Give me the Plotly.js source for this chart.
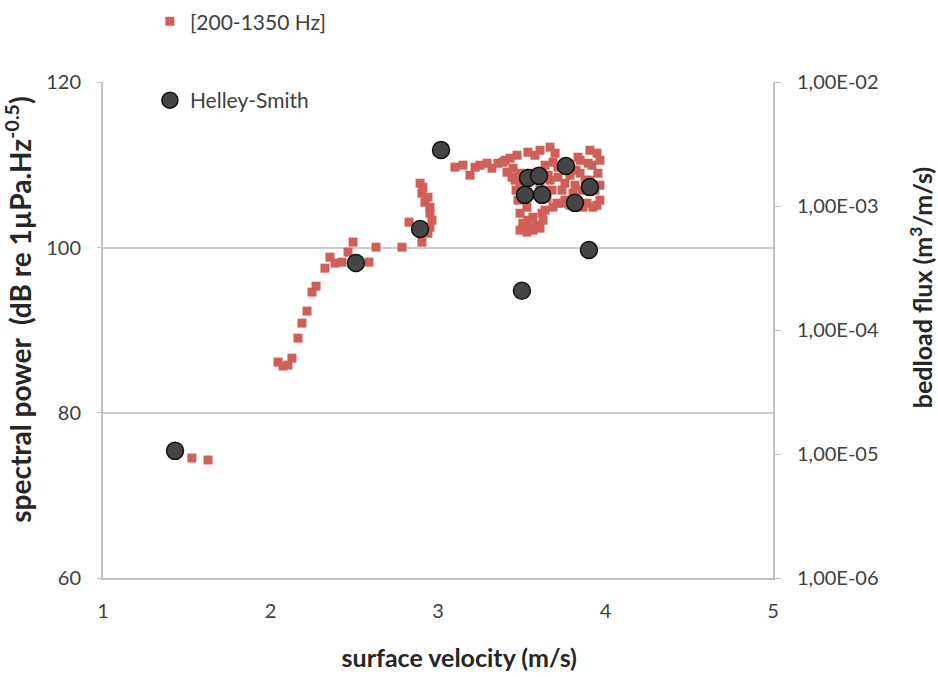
<!DOCTYPE html>
<html>
<head>
<meta charset="utf-8">
<script src="https://cdn.plot.ly/plotly-3.0.1.min.js"></script>
<style>html,body{margin:0;padding:0;background:#fff;}#chart{width:938px;height:677px;}</style>
</head>
<body>
<div id="chart"></div>
<script>
// Acoustic spectral power, band [200-1350 Hz] (left axis, dB)
const hydroVelocity = [1.531,1.627,2.045,2.075,2.104,2.128,2.164,2.188,2.218,2.248,2.272,2.325,2.355,2.385,2.427,2.463,2.493,2.588,2.630,2.785,2.827,2.904,2.893,2.910,2.904,2.940,2.922,2.952,2.952,2.964,2.952,2.940,3.101,3.149,3.191,3.221,3.251,3.293,3.322,3.358,3.400,3.412,3.442,3.472,3.490,3.388,3.430,3.537,3.448,3.460,3.478,3.490,3.507,3.549,3.591,3.621,3.651,3.681,3.669,3.699,3.687,3.716,3.716,3.758,3.806,3.836,3.848,3.878,3.896,3.949,3.955,3.967,3.925,3.890,3.549,3.567,3.531,3.669,3.710,3.758,3.860,3.507,3.567,3.627,3.687,3.746,3.949,3.519,3.490,3.639,3.609,3.919,3.937,3.907,3.788,3.818,3.639,3.537,3.466,3.579,3.609,3.579,3.490,3.609,3.531,3.639,3.657,3.740,3.788,3.866,3.907,3.967,3.967,3.848,3.824];
const hydroPower = [74.52,74.28,86.13,85.65,85.77,86.61,89.03,90.85,92.30,94.60,95.32,97.50,98.83,98.11,98.23,99.44,100.65,98.23,100.04,100.04,103.07,100.65,107.78,107.30,106.57,106.09,105.48,104.88,104.15,103.31,102.46,101.73,109.72,109.96,108.75,109.72,109.96,110.20,109.60,110.20,110.56,109.11,108.51,111.17,108.99,110.32,110.81,111.53,109.60,108.15,105.73,104.15,102.94,102.34,102.70,104.15,105.97,106.94,112.14,111.41,110.32,109.72,108.51,105.73,106.57,110.93,108.99,108.15,110.20,111.41,108.99,105.73,104.88,105.36,108.99,103.67,104.88,108.15,105.36,107.78,106.94,102.46,102.10,103.31,104.88,105.36,105.12,106.94,107.54,109.96,107.54,109.96,106.94,108.15,108.75,107.54,104.51,103.31,106.94,106.33,111.77,111.17,102.10,102.34,101.86,106.94,108.75,106.94,105.12,104.88,111.77,110.56,107.54,110.56,109.36];

// Helley-Smith bedload samples (right axis, m3/m/s)
const hsVelocity = [1.430,2.510,2.893,3.018,3.501,3.519,3.537,3.603,3.621,3.764,3.818,3.907,3.901];
const hsFlux = [1.06e-5,3.47e-4,6.53e-4,2.83e-3,2.07e-4,1.23e-3,1.68e-3,1.75e-3,1.23e-3,2.10e-3,1.06e-3,1.42e-3,4.42e-4];

const xTicks = [1,2,3,4,5];
const yTicks = [60,80,100,120];
const fluxTickVals = [1e-6,1e-5,1e-4,1e-3,1e-2];
const fluxTickText = ['1,00E-06','1,00E-05','1,00E-04','1,00E-03','1,00E-02'];

const FONT = 'Lato, "Open Sans", sans-serif';
const TITLE_FONT = {family: FONT, size: 25, color: '#262626', weight: 'bold'};
const TICK_FONT = {family: FONT, size: 20, color: '#404040'};
const NB = '\u00A0';
const ZW = '\u200B';

const traces = [
  {
    x: hydroVelocity, y: hydroPower, name: '[200-1350 Hz]', type: 'scatter', mode: 'markers',
    marker: {symbol: 'square', size: 9, color: '#cf5f58'},
    legend: 'legend', yaxis: 'y', cliponaxis: false
  },
  {
    x: hsVelocity, y: hsFlux, name: 'Helley-Smith', type: 'scatter', mode: 'markers',
    marker: {symbol: 'circle', size: 17, color: '#454545', line: {color: '#111111', width: 1.5}},
    legend: 'legend2', yaxis: 'y2', cliponaxis: false
  }
];

const layout = {
  width: 938, height: 677,
  margin: {l: 103, r: 165, t: 82, b: 99, autoexpand: false},
  paper_bgcolor: '#ffffff', plot_bgcolor: '#ffffff',
  font: {family: FONT, color: '#404040', size: 20},
  showlegend: true,
  xaxis: {
    range: [1, 5], tickvals: xTicks, showgrid: false, zeroline: false,
    showline: true, linecolor: '#c0c0c0', linewidth: 2, ticks: '',
    tickfont: TICK_FONT, ticklabelstandoff: 14,
    title: {text: ZW + NB.repeat(7) + 'surface velocity (m/s)', font: TITLE_FONT, standoff: 28}
  },
  yaxis: {
    range: [60, 120.03], tickvals: yTicks, showgrid: true, gridcolor: '#cccccc', gridwidth: 2,
    zeroline: false, showline: true, linecolor: '#c0c0c0', linewidth: 2, ticks: 'outside', ticklen: 4, tickcolor: '#c0c0c0',
    tickfont: TICK_FONT, ticklabelstandoff: 12,
    title: {text: ZW + NB.repeat(6) + 'spectral power' + NB + NB + '(dB re 1µPa.Hz<sup>-0.5</sup>)', font: Object.assign({}, TITLE_FONT, {size: 28}), standoff: 10}
  },
  yaxis2: {
    type: 'log', range: [-6, -2], overlaying: 'y', side: 'right', anchor: 'x',
    tickvals: fluxTickVals, ticktext: fluxTickText, showgrid: false, zeroline: false,
    showline: true, linecolor: '#c0c0c0', linewidth: 2, ticks: 'outside', ticklen: 6, tickcolor: '#c0c0c0',
    tickfont: TICK_FONT, ticklabelstandoff: 12,
    title: {text: ZW + NB.repeat(14) + 'bedload flux (m<sup>3</sup>/m/s)', font: TITLE_FONT, standoff: 37}
  },
  legend: {
    x: 0.07, y: 1.163, xanchor: 'left', yanchor: 'top', bgcolor: 'rgba(255,255,255,0)',
    font: {family: FONT, size: 21, color: '#404040'}, itemsizing: 'trace'
  },
  legend2: {
    x: 0.07, y: 1.004, xanchor: 'left', yanchor: 'top', bgcolor: '#ffffff',
    font: {family: FONT, size: 21, color: '#404040'}, entrywidth: 155, itemsizing: 'trace'
  }
};

Plotly.newPlot('chart', traces, layout, {displayModeBar: false, staticPlot: true});
</script>
</body>
</html>
